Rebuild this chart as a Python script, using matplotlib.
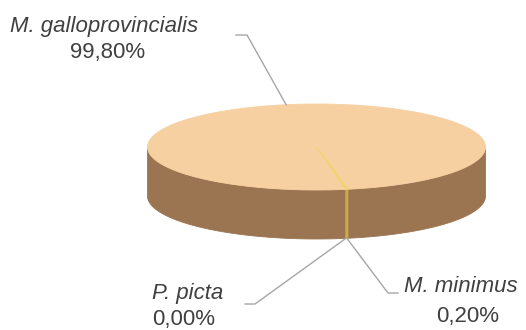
import numpy as np
import matplotlib.pyplot as plt
from matplotlib.patches import Polygon

# data
species = ["M. galloprovincialis", "M. minimus", "P. picta"]
shares = [99.80, 0.20, 0.00]
pct_labels = ["99,80%", "0,20%", "0,00%"]

top_colors = ["#F7D0A2", "#F3D468", "#F3D468"]
side_colors = ["#9B7552", "#CBAA48", "#CBAA48"]

# pie geometry (pixels, y goes down)
cx, cy = 316.5, 147.0
ra, rb = 169.0, 43.0
depth = 49.0
start = 80.0  # degrees, clockwise on screen


def ell(t, dy=0.0):
    t = np.radians(t)
    return cx + ra * np.cos(t), cy + rb * np.sin(t) + dy


fig = plt.figure(figsize=(5.26, 3.30), dpi=100)
ax = fig.add_axes([0, 0, 1, 1])
ax.set_xlim(0, 526)
ax.set_ylim(330, 0)
ax.axis("off")

total = float(sum(shares))
angles = [start]
for v in shares:
    angles.append(angles[-1] + 360.0 * v / total)

# side walls (front half only: 0..180 deg)
for i in range(len(shares)):
    a0, a1 = angles[i], angles[i + 1]
    if a1 - a0 <= 0:
        continue
    for k in (-360, 0, 360):
        lo = max(a0 + k, 0.0)
        hi = min(a1 + k, 180.0)
        if hi <= lo:
            continue
        ts = np.linspace(lo, hi, 200)
        xt, yt = ell(ts)
        xb, yb = ell(ts[::-1], depth)
        pts = np.column_stack([np.r_[xt, xb], np.r_[yt, yb]])
        ax.add_patch(Polygon(pts, closed=True, fc=side_colors[i], ec=side_colors[i], lw=0.6))

# top face
for i in range(len(shares)):
    a0, a1 = angles[i], angles[i + 1]
    if a1 - a0 <= 0:
        continue
    ts = np.linspace(a0, a1, 400)
    xs, ys = ell(ts)
    pts = np.column_stack([np.r_[cx, xs], np.r_[cy, ys]])
    ax.add_patch(Polygon(pts, closed=True, fc=top_colors[i], ec=top_colors[i], lw=0.6))

line_col = "#A6A6A6"
txt_col = "#404040"
fs = 16

# M. galloprovincialis: leader to top face at slice middle
mid0 = (angles[0] + angles[1]) / 2
px, py = ell(mid0)
ax.plot([236, 247, px], [35, 35, py], color=line_col, lw=1)
ax.text(104, 32, species[0], ha="center", va="baseline", style="italic",
        fontsize=fs, color=txt_col, family="Liberation Sans")
ax.text(108, 58, pct_labels[0], ha="center", va="baseline",
        fontsize=fs, color=txt_col, family="Liberation Sans")

# M. minimus and P. picta: leaders to bottom of side wall
mid1 = (angles[1] + angles[2]) / 2
bx, by = ell(mid1, depth)
ax.plot([bx, 388, 398], [by, 293, 293], color=line_col, lw=1)
ax.text(461, 292, species[1], ha="center", va="baseline", style="italic",
        fontsize=fs, color=txt_col, family="Liberation Sans")
ax.text(468, 322, pct_labels[1], ha="center", va="baseline",
        fontsize=fs, color=txt_col, family="Liberation Sans")

qx, qy = ell(angles[2], depth)
ax.plot([245, 255, qx], [304, 304, qy], color=line_col, lw=1)
ax.text(152, 299, species[2], ha="left", va="baseline", style="italic",
        fontsize=fs, color=txt_col, family="Liberation Sans")
ax.text(152, 325, pct_labels[2], ha="left", va="baseline",
        fontsize=fs, color=txt_col, family="Liberation Sans")

fig.savefig("out.png", dpi=100, facecolor="white")
